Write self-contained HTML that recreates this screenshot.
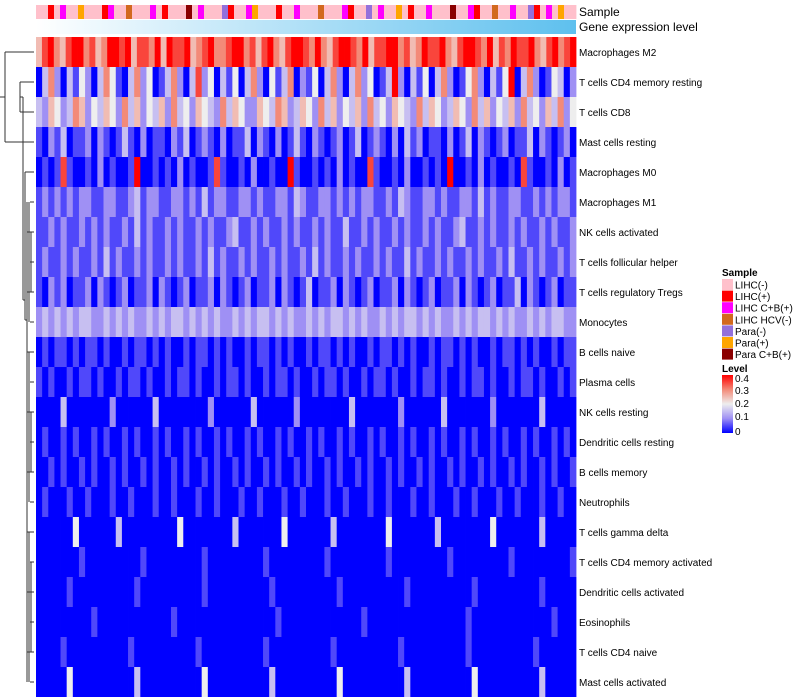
<!DOCTYPE html>
<html><head><meta charset="utf-8"><style>
body{margin:0;background:#fff;font-family:"Liberation Sans",sans-serif}
svg{display:block}
</style></head><body>
<svg id="chart" width="800" height="700" xmlns="http://www.w3.org/2000/svg">
<defs>
<linearGradient id="gexp" x1="0" x2="1" y1="0" y2="0"><stop offset="0" stop-color="#ffffff"/><stop offset="1" stop-color="#5ec0ee"/></linearGradient>
<linearGradient id="lvl" x1="0" x2="0" y1="1" y2="0"><stop offset="0" stop-color="#0000ff"/><stop offset="0.25" stop-color="#9f90f4"/><stop offset="0.5" stop-color="#eeeeee"/><stop offset="0.75" stop-color="#f38a78"/><stop offset="1" stop-color="#ff0000"/></linearGradient>
</defs>
<g id="heat"></g>
<g id="sample"></g>
<rect x="36" y="20" width="540" height="14" fill="url(#gexp)"/>
<text x="579" y="16" font-size="12">Sample</text>
<text x="579" y="31" font-size="12">Gene expression level</text>
<g id="labels" font-size="10" fill="#000"></g>
<g id="dendro" stroke="#333" stroke-width="1" fill="none"></g>
<g font-size="10">
<text x="722" y="276" font-weight="bold">Sample</text>
<g id="sleg"></g>
</g>
<g font-size="10">
<text x="722" y="372" font-weight="bold">Level</text>
<rect x="722" y="375" width="11" height="58" fill="url(#lvl)"/>
<text x="735" y="382">0.4</text><text x="735" y="394">0.3</text><text x="735" y="407">0.2</text><text x="735" y="420">0.1</text><text x="735" y="435">0</text>
</g>
</svg>
<script>
const rowNames=["Macrophages M2","T cells CD4 memory resting","T cells CD8","Mast cells resting","Macrophages M0","Macrophages M1","NK cells activated","T cells follicular helper","T cells regulatory  Tregs","Monocytes","B cells naive","Plasma cells","NK cells resting","Dendritic cells resting","B cells memory","Neutrophils","T cells gamma delta","T cells CD4 memory activated","Dendritic cells activated","Eosinophils","T cells CD4 naive","Mast cells activated"];
// levels 0-8 => 0..0.4 step 0.05
const rowLevels=[
"5786578867568878577685877856786678867578657887686578876857788675687786578876857687786578678",
"0362031420364103624013620372403140362041360214036203624013820314036201462031480362014302",
"3254236524354263524352634254326354225436523542635243526342543263542354263524352634253624",
"1021301120210131020110213012102011302102013102101201301210203120110201302101201130210120",
"0101710010201001800101020100171001020010081001010201007100102001010800102010010710010201",
"1212121221122112312211221213122112212112213211221212122112132112212112213121122112121221",
"1121211212121121312112121121211231121211212112121131121211212112121123112121121211212112",
"1211212112131211212112121121312112121121211213121121211212113121121211212112131121211212",
"1021201120210120112021012011202101201120210130112021012011202101201120210120113021012011",
"2323232332232323223232332323232232323323232232323323232232323323232232323323232232323322",
"0101101011010010110101001011010100101101010010110101001011010100101101010010110101001011",
"1010010110100101101001011010010110100101101001011010010110100101101001011010010110100101",
"0000300000002000000300000000200000030000002000000003000000020000003000000020000000300000",
"0100101001010010100101001010010100101001010010100101001010010100101001010010100101001010",
"0010100101001010010100101001010010100101001010010100101001010010100101001010010100101001",
"0100010010001001000100100010010001001000100100010010001001000100100010010001001000100100",
"0000004000000300000000040000000030000000400000003000000004000000030000000040000000300000",
"0000000100000000010000000001000000000100000000010000000001000000000100000000010000000001",
"0000010000000000100000000001000000000010000000000100000000001000000000010000000000100000",
"0000000001000000000000100000000000000001000000000000010000000000000000100000000000001000",
"0000100000000001000000000010000000000100000000001000000000010000000000100000000001000000",
"0000040000000000300000000004000000000030000000000400000000003000000000040000000000300000"];
const sampleSeq="aabacaafaaabcaadaaacabaaagacaaaebaacfaaabaacaaadaaacbaaeacaafabaacaaagaacbaadaacaaebacafaa";
const sampleCats=["LIHC(-)","LIHC(+)","LIHC C+B(+)","LIHC HCV(-)","Para(-)","Para(+)","Para C+B(+)"];
const sampleColors=["#ffc0cb","#ff0000","#ff00ff","#d2691e","#9370db","#ffa500","#8b0000"];
const NS="http://www.w3.org/2000/svg";
const X0=36,W=540,Y0=37,RH=30;
function mk(t,a,p){const e=document.createElementNS(NS,t);for(const k in a)e.setAttribute(k,a[k]);p.appendChild(e);return e;}
function lerp(a,b,t){return Math.round(a+(b-a)*t);}
const stops=[[0,[0,0,255]],[0.1,[159,144,244]],[0.2,[238,238,238]],[0.3,[243,138,120]],[0.4,[255,0,0]]];
function color(v){v=Math.max(0,Math.min(0.4,v));for(let i=0;i<4;i++){const[a,ca]=stops[i],[b,cb]=stops[i+1];if(v<=b){const t=(v-a)/(b-a);return`rgb(${lerp(ca[0],cb[0],t)},${lerp(ca[1],cb[1],t)},${lerp(ca[2],cb[2],t)})`;}}return"red";}
const heat=document.getElementById('heat');
rowLevels.forEach((s,r)=>{const cw=W/s.length;for(let c=0;c<s.length;c++){
 const el=mk('rect',{x:X0+c*cw,y:Y0+r*RH,width:cw+0.4,height:RH,fill:color(+s[c]*0.05)},heat);
 
 }});
const sg=document.getElementById('sample');const sw=W/sampleSeq.length;
for(let c=0;c<sampleSeq.length;c++){const i=sampleSeq.charCodeAt(c)-97;
 const el=mk('rect',{x:X0+c*sw,y:5,width:sw+0.4,height:14,fill:sampleColors[i]},sg);
 
 }
const lg=document.getElementById('labels');
rowNames.forEach((n,r)=>{const t=mk('text',{x:579,y:Y0+r*RH+RH/2+4},lg);t.textContent=n;
 
 });
const sl=document.getElementById('sleg');
sampleCats.forEach((n,i)=>{const y=279+i*11.6;
 const b=mk('rect',{x:722,y:y,width:11,height:11,fill:sampleColors[i]},sl);
 
 
 const t=mk('text',{x:735,y:y+9.5},sl);t.textContent=n;
 
 });
const d=document.getElementById('dendro');
function ly(r){return Y0+r*RH+RH/2;}
function L(x1,y1,x2,y2){mk('line',{x1,y1,x2,y2},d);}
L(5,ly(0),34,ly(0));L(5,ly(0),5,142);L(0,97,5,97);L(5,142,23,142);
L(20,ly(1),34,ly(1));L(20,ly(2),34,ly(2));L(20,ly(1),20,ly(2));L(20,97,23,97);
L(23,97,23,300);L(23,ly(3),34,ly(3));L(25,ly(4),34,ly(4));L(25,ly(4),25,320);L(23,300,25,300);
for(let r=5;r<22;r++){const x=27+((r*3)%6);L(x,ly(r),34,ly(r));}
L(27,ly(5),27,ly(21));L(29,ly(5),29,ly(9));L(31,ly(6),31,ly(8));L(29,ly(10),29,ly(15));L(31,ly(12),31,ly(14));L(29,ly(16),29,ly(21));L(31,ly(17),31,ly(20));L(25,320,27,320);
</script>
</body></html>
